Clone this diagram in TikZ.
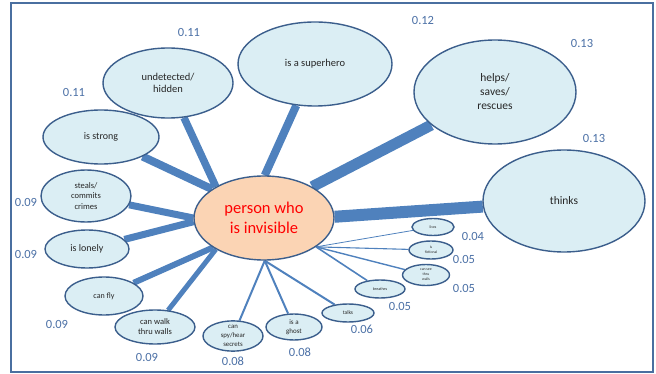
\documentclass[tikz,border=0pt]{standalone}
\usepackage{fontspec}
\setmainfont{Carlito}
\usetikzlibrary{shapes.geometric,backgrounds}
\definecolor{fillb}{HTML}{DBEEF4}
\definecolor{edgeb}{HTML}{3B5E8C}
\definecolor{conn}{HTML}{4F81BD}
\definecolor{lab}{HTML}{4A6FA5}
\definecolor{peach}{HTML}{FBD4B4}
\definecolor{frameb}{HTML}{4A6FA0}
\newcommand{\fs}[1]{\fontsize{#1}{\dimexpr #1pt*6/5\relax}\selectfont}
\begin{document}
\begin{tikzpicture}[x=1pt,y=-1pt,
  bub/.style={ellipse, draw=edgeb, line width=1.4pt, fill=fillb, inner sep=0pt, align=center, text=black!85},
  val/.style={text=lab, font=\fontsize{12.5}{14}\selectfont},
  link/.style={draw=conn, line cap=butt},
]
\useasboundingbox (0,0) rectangle (656,374);
\draw[frameb, line width=2pt] (10.5,2.7) rectangle (653,371.5);

% central node
\node[ellipse, draw=edgeb, line width=1.4pt, fill=peach, inner sep=0pt,
      minimum width=140pt, minimum height=84pt, align=center, text=red,
      font=\fontsize{16.5}{20}\selectfont] (c) at (264,218) {person who\\is invisible};

% large nodes
\node[bub, minimum width=154pt, minimum height=84pt, font=\fs{10.5}] (sup) at (315,64) {is a superhero};
\node[bub, minimum width=130pt, minimum height=70pt, font=\fontsize{10.5}{12.7}\selectfont] (und) at (168,83) {undetected/\\hidden};
\node[bub, minimum width=162pt, minimum height=104pt, font=\fontsize{11.5}{14}\selectfont] (help) at (495,92) {helps/\\saves/\\rescues};
\node[bub, minimum width=162pt, minimum height=102pt, font=\fs{11.5}] (think) at (564,201) {thinks};
\node[bub, minimum width=116pt, minimum height=54pt, font=\fs{10}] (str) at (101,137) {is strong};
\node[bub, minimum width=90pt, minimum height=52pt, font=\fontsize{8.5}{10.5}\selectfont] (steal) at (86,196) {steals/\\commits\\crimes};
\node[bub, minimum width=84pt, minimum height=38pt, font=\fs{10}] (lone) at (87,249) {is lonely};
\node[bub, minimum width=78pt, minimum height=38pt, font=\fs{8}] (fly) at (104,296) {can fly};
\node[bub, minimum width=80pt, minimum height=34pt, font=\fontsize{8.5}{10}\selectfont] (walk) at (155,327) {can walk\\thru walls};
\node[bub, minimum width=60pt, minimum height=27pt, font=\fontsize{6.8}{9}\selectfont] (spy) at (233,336) {can\\spy/hear\\secrets};
\node[bub, minimum width=56pt, minimum height=26pt, font=\fontsize{7}{9}\selectfont] (ghost) at (294,327) {is a\\ghost};
\node[bub, minimum width=52pt, minimum height=18pt, font=\fs{5.5}] (talk) at (348,313) {talks};
\node[bub, minimum width=50pt, minimum height=18pt, font=\fs{4}] (breath) at (380,289) {breathes};
\node[bub, minimum width=47pt, minimum height=21pt, font=\fontsize{3.8}{5}\selectfont] (see) at (426,275) {can see\\thru\\walls};
\node[bub, minimum width=44pt, minimum height=18pt, font=\fontsize{3.8}{5}\selectfont] (fict) at (431,250) {is\\fictional};
\node[bub, minimum width=42pt, minimum height=17pt, font=\fs{3.8}] (lives) at (433,227) {lives};

% values
\node[val] (v1) at (189,32) {0.11};
\node[val] (v2) at (423,20) {0.12};
\node[val] (v3) at (582,43) {0.13};
\node[val] (v4) at (74,92) {0.11};
\node[val] (v5) at (594,138) {0.13};
\node[val] (v6) at (26,202) {0.09};
\node[val] (v7) at (26,254) {0.09};
\node[val] (v8) at (57,324) {0.09};
\node[val] (v9) at (147,357) {0.09};
\node[val] (v10) at (233,361) {0.08};
\node[val] (v11) at (300,352) {0.08};
\node[val] (v12) at (362,329) {0.06};
\node[val] (v13) at (400,306) {0.05};
\node[val] (v14) at (464,288) {0.05};
\node[val] (v15) at (464,259) {0.05};
\node[val] (v16) at (473,236) {0.04};

% connectors
\begin{scope}[on background layer]
\draw[link, line width=12pt] (c.1) -- (think);
\draw[link, line width=11pt] (c.33) -- (help);
\draw[link, line width=8pt] (c.89) -- (sup);
\draw[link, line width=7.5pt] (c.147) -- (und);
\draw[link, line width=8pt] (c.151) -- (str);
\draw[link, line width=7pt] (c.180) -- (steal);
\draw[link, line width=7pt] (c.183) -- (lone);
\draw[link, line width=6pt] (c.210) -- (fly);
\draw[link, line width=5pt] (c.213) -- (walk);
\draw[link, line width=2pt] (c.271) -- (spy);
\draw[link, line width=2pt] (c.271) -- (ghost);
\draw[link, line width=2pt] (c.271) -- (talk);
\draw[link, line width=1.6pt] (c.331) -- (breath);
\draw[link, line width=1.4pt] (c.331) -- (see);
\draw[link, line width=1.1pt] (c.331) -- (fict);
\draw[link, line width=0.8pt] (c.331) -- (lives);
\end{scope}
\end{tikzpicture}
\end{document}
